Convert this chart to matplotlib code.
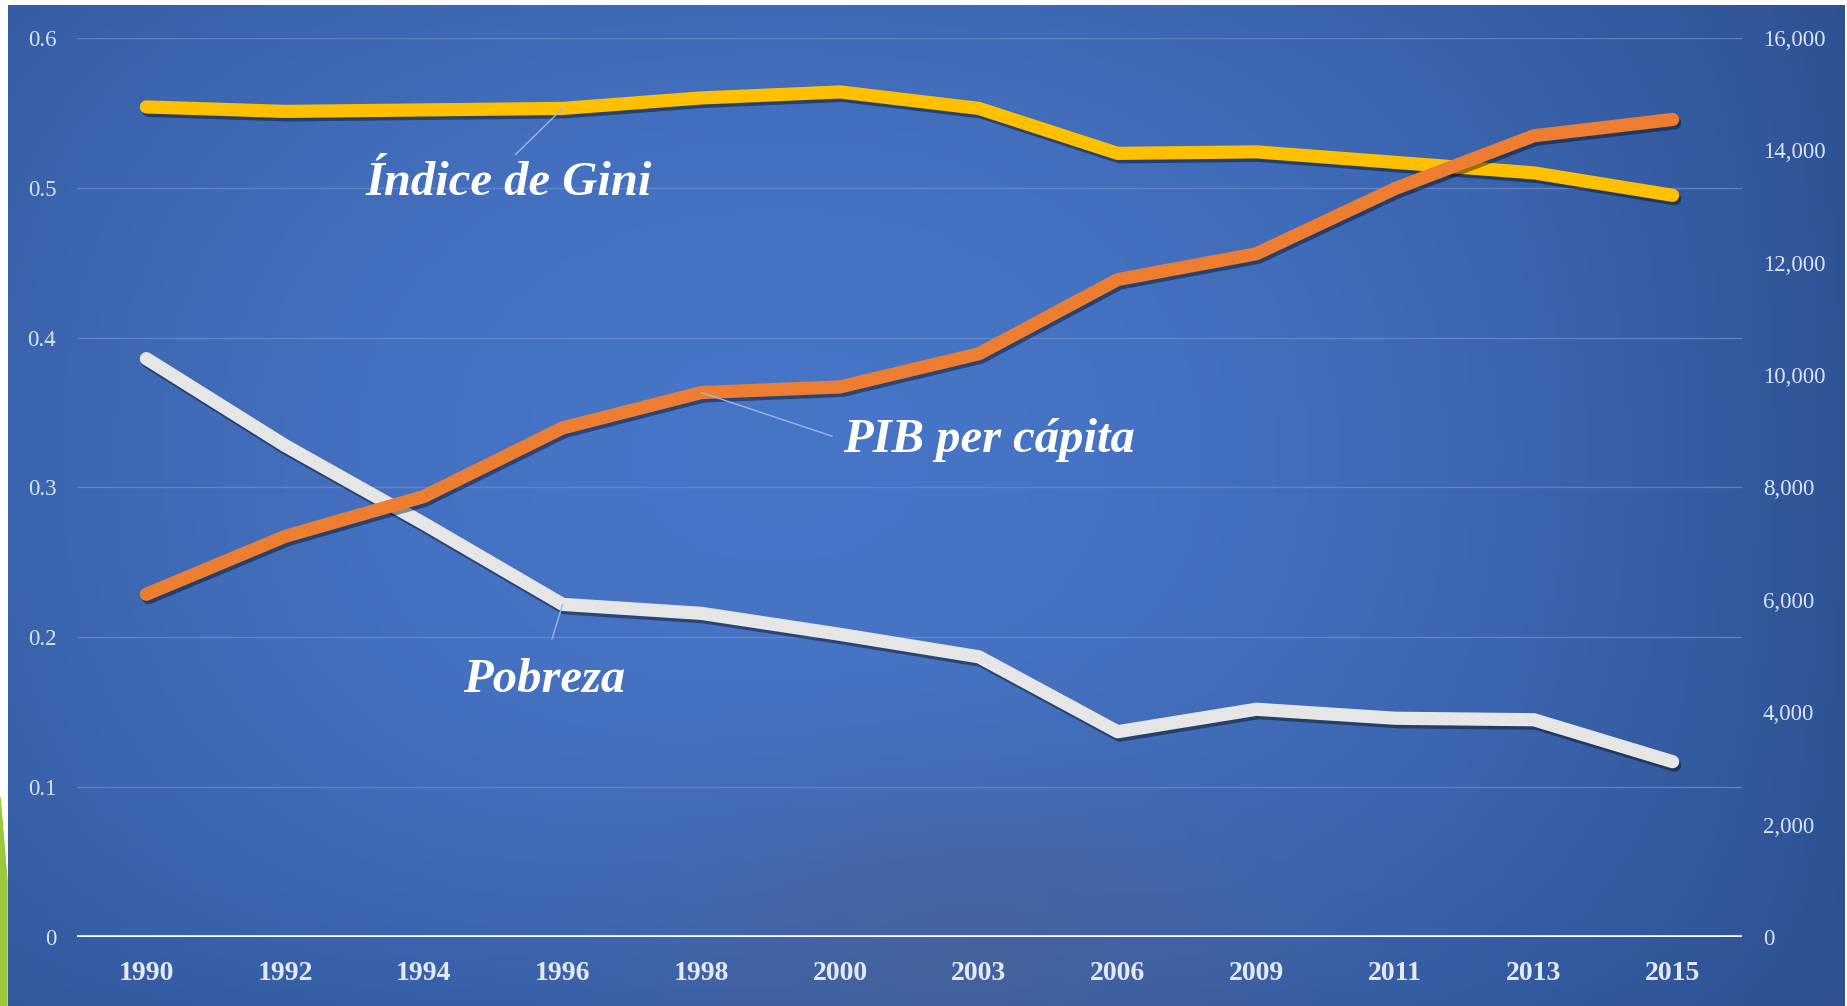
import numpy as np
import matplotlib
matplotlib.use('Agg')
import matplotlib.pyplot as plt
import matplotlib.patheffects as pe
from matplotlib.ticker import FuncFormatter

years = ['1990', '1992', '1994', '1996', '1998', '2000', '2003', '2006', '2009', '2011', '2013', '2015']
gini = [0.554, 0.551, 0.552, 0.553, 0.560, 0.564, 0.553, 0.523, 0.524, 0.517, 0.510, 0.495]
pobreza = [0.386, 0.328, 0.276, 0.222, 0.216, 0.202, 0.187, 0.137, 0.152, 0.146, 0.145, 0.117]
pib = [6100, 7130, 7840, 9060, 9690, 9790, 10380, 11700, 12160, 13320, 14260, 14550]

W, H = 1847, 1006
fig = plt.figure(figsize=(W / 100, H / 100), dpi=100)
fig.patch.set_facecolor('white')

# blue gradient background
bg = fig.add_axes([8 / W, 0, (1845 - 8) / W, 1001 / H])
xx, yy = np.meshgrid(np.linspace(0, 1, 400), np.linspace(1, 0, 220))
fx = np.clip(1 - ((xx - 0.42) / 0.62) ** 2, 0, 1)
fy = np.clip(1 - ((yy - 0.55) / 0.62) ** 2, 0, 1)
f = (fx * np.sqrt(fy))[..., None]
dark = np.array([0.17, 0.31, 0.56])
light = np.array([0.28, 0.46, 0.78])
gray = np.array([0.29, 0.38, 0.58])
img = dark + (light - dark) * f
g = (0.6 * np.exp(-((xx - 0.52) / 0.16) ** 2 - ((yy - 0.06) / 0.16) ** 2))[..., None]
img = img * (1 - g) + gray * g
bg.imshow(img, aspect='auto', extent=[0, 1, 0, 1])
bg.axis('off')

# green shape on the left edge
fig.patches.append(plt.Polygon([[0, 1 - 797 / H], [7 / W, 1 - 880 / H], [7 / W, 0], [0, 0]],
                               closed=True, transform=fig.transFigure, color='#9dc73c'))

ax = fig.add_axes([77 / W, 1 - 937 / H, (1742 - 77) / W, (937 - 38) / H])
ax.set_facecolor('none')
ax2 = ax.twinx()
ax2.set_facecolor('none')

x = np.arange(len(years))
shadow = [pe.SimpleLineShadow(offset=(1.5, -2.5), shadow_color='black', alpha=0.4), pe.Normal()]
ax.plot(x, gini, color='#ffc000', lw=9.5, solid_capstyle='round', solid_joinstyle='round',
        path_effects=shadow, zorder=3)
ax.plot(x, pobreza, color='#e6e6e6', lw=9.5, solid_capstyle='round', solid_joinstyle='round',
        path_effects=shadow, zorder=3)
ax2.plot(x, pib, color='#ed7d31', lw=9.5, solid_capstyle='round', solid_joinstyle='round',
         path_effects=shadow, zorder=3)

ax.set_xlim(-0.5, len(years) - 0.5)
ax.set_ylim(0, 0.6)
ax2.set_ylim(0, 16000)
ax.set_yticks([0, 0.1, 0.2, 0.3, 0.4, 0.5, 0.6])
ax.set_yticklabels(['0', '0.1', '0.2', '0.3', '0.4', '0.5', '0.6'])
ax2.set_yticks(range(0, 16001, 2000))
ax2.yaxis.set_major_formatter(FuncFormatter(lambda v, p: '{:,.0f}'.format(v)))
ax.set_xticks(x)
ax.set_xticklabels(years)

for a in (ax, ax2):
    for s in a.spines.values():
        s.set_visible(False)
ax.axhline(0, color='white', lw=2.6, zorder=4)
ax.yaxis.grid(True, color='#6f8fcf', lw=1, alpha=0.7)
ax.set_axisbelow(True)

serif = ['Liberation Serif', 'DejaVu Serif']
ax.tick_params(axis='y', length=0, pad=15, labelsize=16.5, labelcolor='#dce4f2')
ax2.tick_params(axis='y', length=0, pad=15, labelsize=16.5, labelcolor='#dce4f2')
ax.tick_params(axis='x', length=0, pad=17, labelsize=20, labelcolor='#e3e9f5')
for lab in ax.get_yticklabels() + ax2.get_yticklabels():
    lab.set_family(serif)
for lab in ax.get_xticklabels():
    lab.set_family(serif)
    lab.set_fontweight('bold')

lead = dict(arrowstyle='-', color='#9bb6e4', lw=1)
txt = dict(family=serif, fontsize=35, fontweight='bold', style='italic', color='white')
ax.annotate('Índice de Gini', xy=(3, gini[3]), xytext=(2.61, 0.503), ha='center', va='center',
            arrowprops=dict(relpos=(0.5, 1), shrinkA=4, shrinkB=0, **lead), **txt)
ax.annotate('Pobreza', xy=(3, pobreza[3]), xytext=(2.87, 0.1716), ha='center', va='center',
            arrowprops=dict(relpos=(0.51, 1), shrinkA=12, shrinkB=0, **lead), **txt)
ax2.annotate('PIB per cápita', xy=(4, pib[4]), xytext=(5.02, 8850), ha='left', va='center',
             arrowprops=dict(relpos=(0, 0.5), shrinkA=6, shrinkB=0, **lead), **txt)

fig.savefig('out.png', dpi=100)
